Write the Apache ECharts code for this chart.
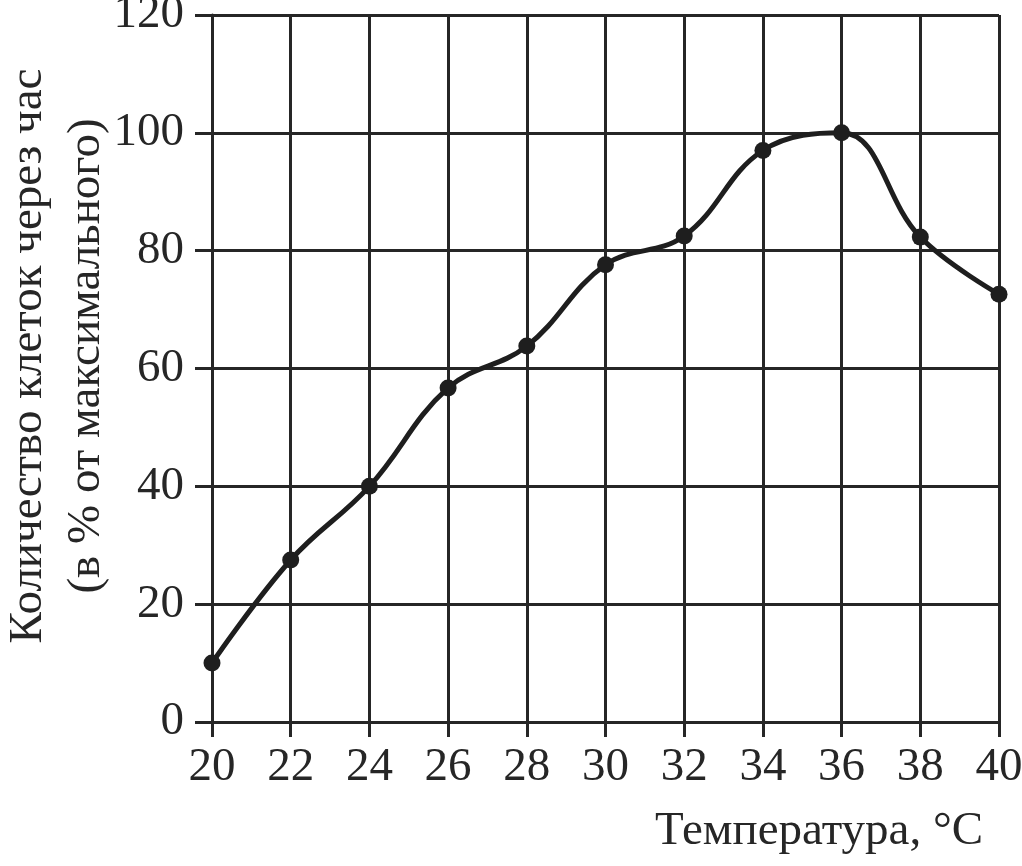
<!DOCTYPE html>
<html>
<head>
<meta charset="utf-8">
<script src="https://cdn.jsdelivr.net/npm/echarts@6/dist/echarts.min.js"></script>
<style>
html,body{margin:0;padding:0;background:#fff;}
#chart{width:1022px;height:866px;}
</style>
</head>
<body>
<div id="chart"></div>
<script>
var temperatures = [20, 22, 24, 26, 28, 30, 32, 34, 36, 38, 40];
var cellCounts = [10, 27.5, 40, 56.7, 63.8, 77.6, 82.5, 97, 100, 82.3, 72.6];
var xAxisTitle = 'Температура, °C';
var yAxisTitleLines = ['Количество клеток через час', '(в % от максимального)'];

var FONT = '"Liberation Serif", "Times New Roman", "DejaVu Serif", serif';
var INK = '#262626';

var chart = echarts.init(document.getElementById('chart'));
chart.setOption({
  backgroundColor: '#ffffff',
  animation: false,
  grid: { left: 212, right: 23, top: 15, bottom: 144, containLabel: false, outerBoundsMode: 'none' },
  xAxis: {
    type: 'value', min: 20, max: 40, interval: 2,
    axisLine: { show: true, lineStyle: { color: INK, width: 3 } },
    axisTick: { show: true, inside: false, length: 15, lineStyle: { color: INK, width: 3 } },
    axisLabel: { margin: 22, color: INK, fontFamily: FONT, fontSize: 47 },
    splitLine: { show: true, lineStyle: { color: INK, width: 3 } }
  },
  yAxis: {
    type: 'value', min: 0, max: 120, interval: 20,
    axisLine: { show: true, lineStyle: { color: INK, width: 3 } },
    axisTick: { show: true, inside: false, length: 17, lineStyle: { color: INK, width: 3 } },
    axisLabel: { margin: 28, color: INK, fontFamily: FONT, fontSize: 47 },
    splitLine: { show: true, lineStyle: { color: INK, width: 3 } }
  },
  graphic: [
    {
      type: 'text', left: 655, top: 808,
      style: { text: xAxisTitle, font: '47px ' + FONT, fill: INK }
    },
    {
      type: 'text', x: 58, y: 356, rotation: Math.PI / 2,
      style: {
        text: yAxisTitleLines.join('\n'), font: '47px ' + FONT, fill: INK,
        align: 'center', verticalAlign: 'middle', lineHeight: 58
      }
    }
  ],
  series: [{
    type: 'line',
    data: temperatures.map(function (t, i) { return [t, cellCounts[i]]; }),
    smooth: 0.4,
    symbol: 'circle', symbolSize: 17,
    lineStyle: { color: '#1e1e1e', width: 5 },
    itemStyle: { color: '#1e1e1e' }
  }]
});
</script>
</body>
</html>
